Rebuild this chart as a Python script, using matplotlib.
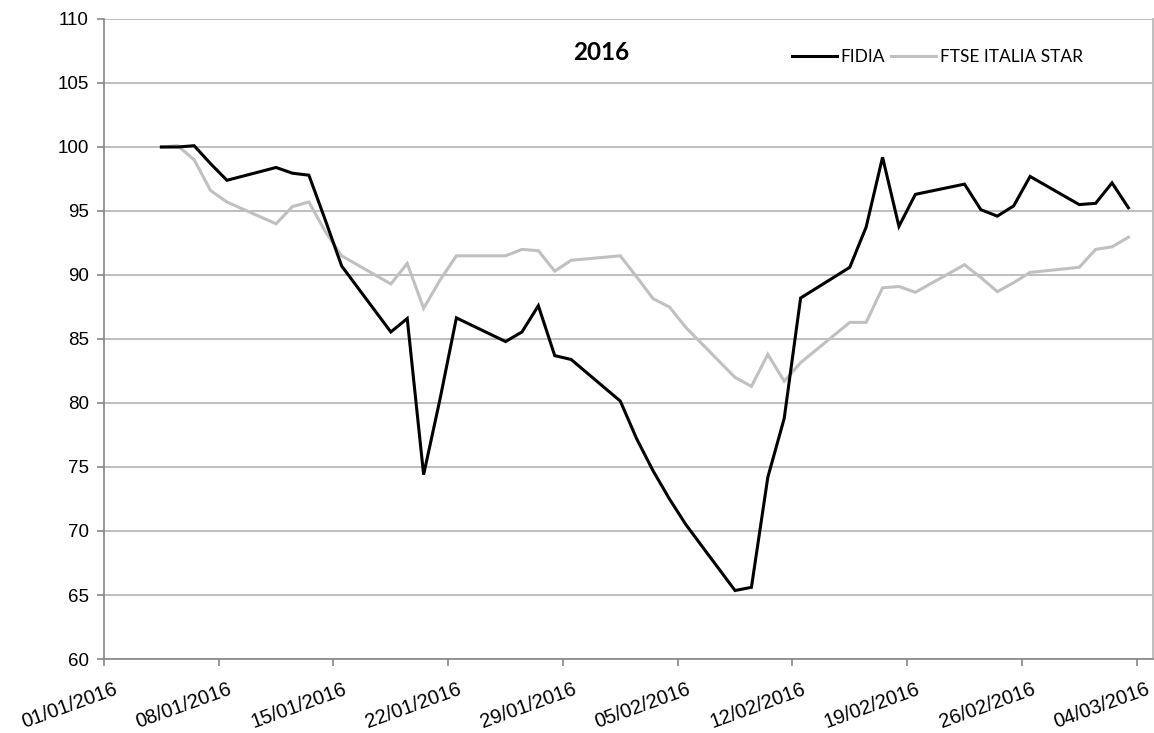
import matplotlib
matplotlib.use("Agg")
import matplotlib.pyplot as plt
import matplotlib.dates as mdates
import matplotlib.transforms as mtransforms
import datetime as dt

dates = [
    "2016-01-04", "2016-01-05", "2016-01-06", "2016-01-07", "2016-01-08",
    "2016-01-11", "2016-01-12", "2016-01-13", "2016-01-14", "2016-01-15",
    "2016-01-18", "2016-01-19", "2016-01-20", "2016-01-21", "2016-01-22",
    "2016-01-25", "2016-01-26", "2016-01-27", "2016-01-28", "2016-01-29",
    "2016-02-01", "2016-02-02", "2016-02-03", "2016-02-04", "2016-02-05",
    "2016-02-08", "2016-02-09", "2016-02-10", "2016-02-11", "2016-02-12",
    "2016-02-15", "2016-02-16", "2016-02-17", "2016-02-18", "2016-02-19",
    "2016-02-22", "2016-02-23", "2016-02-24", "2016-02-25", "2016-02-26",
    "2016-02-29", "2016-03-01", "2016-03-02", "2016-03-03",
]
fidia = [
    100.0, 100.0, 100.1, 98.7, 97.4,
    98.4, 97.95, 97.8, 94.3, 90.7,
    85.55, 86.6, 74.4, 80.3, 86.65,
    84.8, 85.55, 87.6, 83.7, 83.4,
    80.15, 77.2, 74.7, 72.5, 70.5,
    65.35, 65.6, 74.2, 78.8, 88.2,
    90.6, 93.75, 99.2, 93.8, 96.3,
    97.1, 95.1, 94.6, 95.4, 97.7,
    95.5, 95.6, 97.2, 95.25,
]
ftse = [
    100.0, 100.1, 99.0, 96.6, 95.7,
    94.0, 95.35, 95.7, 93.4, 91.5,
    89.3, 90.9, 87.4, 89.6, 91.5,
    91.5, 92.0, 91.9, 90.3, 91.15,
    91.5, 89.85, 88.15, 87.5, 85.9,
    82.0, 81.3, 83.8, 81.7, 83.15,
    86.3, 86.3, 89.0, 89.1, 88.65,
    90.8, 89.8, 88.7, 89.4, 90.2,
    90.6, 92.0, 92.2, 92.95,
]
series_names = ["FIDIA", "FTSE ITALIA STAR"]
title_text = "2016"
y_ticks = [60, 65, 70, 75, 80, 85, 90, 95, 100, 105, 110]
x_tick_dates = ["2016-01-01", "2016-01-08", "2016-01-15", "2016-01-22", "2016-01-29",
                "2016-02-05", "2016-02-12", "2016-02-19", "2016-02-26", "2016-03-04"]

# points are centred in their day slot (date axis "between tick marks")
x = [dt.datetime.strptime(d, "%Y-%m-%d") + dt.timedelta(hours=12) for d in dates]
xt = [dt.datetime.strptime(d, "%Y-%m-%d") for d in x_tick_dates]

W, H = 1154, 733
fig = plt.figure(figsize=(W / 100, H / 100), dpi=100)
ax = fig.add_axes([104 / W, 1 - 659 / H, (1153 - 104) / W, (659 - 19) / H])

grid_c = "#BEBEBE"
axis_c = "#868686"

ax.set_ylim(60, 110)
ax.set_xlim(dt.datetime(2016, 1, 1), dt.datetime(2016, 3, 5))
ax.set_yticks(y_ticks)
ax.set_xticks(xt)
ax.xaxis.set_major_formatter(mdates.DateFormatter("%d/%m/%Y"))

ax.yaxis.grid(True, color=grid_c, linewidth=1.4)
ax.set_axisbelow(True)

for s in ["left", "bottom"]:
    ax.spines[s].set_color(axis_c)
    ax.spines[s].set_linewidth(1.2)
ax.spines["right"].set_color(grid_c)
ax.spines["right"].set_linewidth(1.4)
ax.spines["top"].set_visible(False)

ax.tick_params(axis="both", colors=axis_c, length=5, width=1.2, direction="out")
ax.tick_params(axis="y", labelcolor="black", labelsize=13.5, pad=6)
ax.tick_params(axis="x", labelcolor="black", labelsize=14.5, pad=10)
for lab in ax.get_yticklabels():
    lab.set_fontfamily("Liberation Sans")
offset = mtransforms.ScaledTranslation(9 / 100, 0, fig.dpi_scale_trans)
for lab in ax.get_xticklabels():
    lab.set_fontfamily("Liberation Sans")
    lab.set_rotation(20)
    lab.set_ha("right")
    lab.set_va("top")
    lab.set_rotation_mode("anchor")
    lab.set_transform(lab.get_transform() + offset)

l1, = ax.plot(x, fidia, color="black", linewidth=2.2, solid_joinstyle="miter",
              label=series_names[0], zorder=3)
l2, = ax.plot(x, ftse, color="#C0C0C0", linewidth=2.2, solid_joinstyle="miter",
              label=series_names[1], zorder=2)

fig.text(601 / W, 1 - 53 / H, title_text, ha="center", va="center",
         fontsize=17.5, fontweight="bold", family="Lato")

leg = ax.legend(handles=[l1, l2], ncol=2, loc="center left",
                bbox_to_anchor=(792 / W, 1 - 57 / H), bbox_transform=fig.transFigure,
                frameon=False, handlelength=2.6, handletextpad=0.2, columnspacing=0.35,
                borderpad=0, borderaxespad=0,
                prop={"family": "Lato", "size": 12.5})

fig.savefig("out.png", dpi=100)
